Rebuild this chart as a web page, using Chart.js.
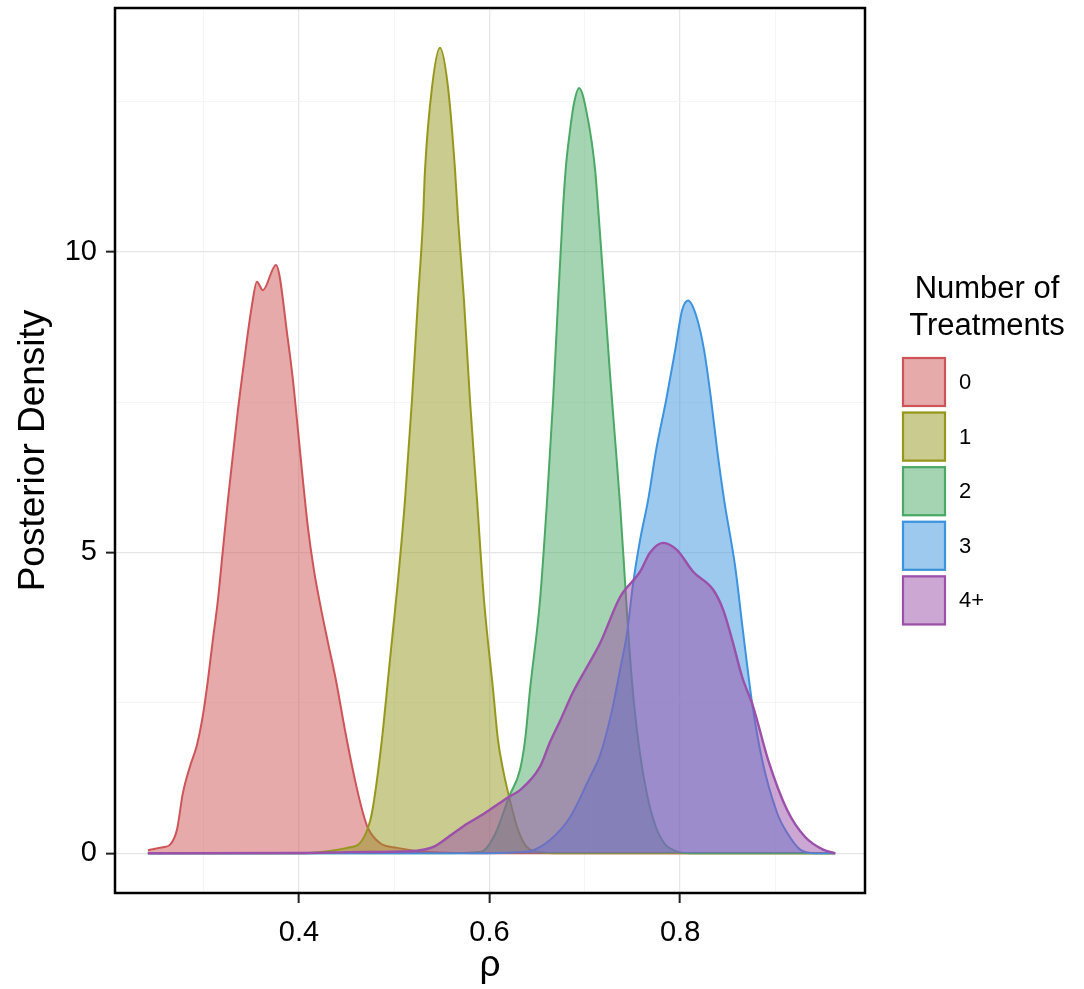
<!DOCTYPE html>
<html>
<head>
<meta charset="utf-8">
<script src="https://cdn.jsdelivr.net/npm/chart.js@4.4.1/dist/chart.umd.min.js"></script>
<style>
  html, body { margin: 0; padding: 0; background: #ffffff; }
  #wrap { width: 1084px; height: 989px; }
</style>
</head>
<body>
<div id="wrap"><canvas id="c" width="1084" height="989"></canvas></div>
<script>
// ---------- data ----------
const categories = ['0', '1', '2', '3', '4+'];

const rho0  = [0.2415, 0.2572, 0.2646, 0.272, 0.2782, 0.2856, 0.293, 0.2993, 0.3045, 0.3097, 0.315, 0.3202, 0.3255, 0.3307, 0.336, 0.3402, 0.3454, 0.3507, 0.3559, 0.3622, 0.3759, 0.3885, 0.3937, 0.399, 0.4042, 0.4094, 0.4157, 0.423, 0.4304, 0.4388, 0.4483, 0.4588, 0.4672, 0.4724, 0.485, 0.5029, 0.5375, 0.6, 0.9627];
const dens0 = [0.05, 0.10, 0.14, 0.39, 1.0, 1.44, 1.8, 2.3, 2.88, 3.55, 4.21, 5.04, 5.87, 6.62, 7.37, 7.9, 8.53, 9.11, 9.5, 9.36, 9.78, 8.53, 7.87, 7.03, 6.2, 5.42, 4.71, 4.08, 3.51, 2.88, 2.05, 1.22, 0.67, 0.42, 0.17, 0.09, 0.02, 0, 0];

const rho1  = [0.2415, 0.40, 0.4325, 0.4504, 0.464, 0.4724, 0.4766, 0.4819, 0.4882, 0.4934, 0.4987, 0.504, 0.5113, 0.5186, 0.5249, 0.5302, 0.5323, 0.5397, 0.548, 0.5564, 0.5638, 0.567, 0.5732, 0.5795, 0.5869, 0.5942, 0.6037, 0.6089, 0.6142, 0.6205, 0.6299, 0.6394, 0.653, 0.674, 0.9627];
const dens1 = [0, 0, 0.04, 0.09, 0.17, 0.42, 0.67, 1.22, 2.05, 2.88, 3.71, 4.54, 5.87, 7.53, 9.19, 10.53, 11.36, 12.74, 13.39, 12.74, 11.36, 10.53, 9.19, 7.53, 5.87, 4.21, 2.72, 1.88, 1.39, 0.94, 0.39, 0.1, 0.02, 0, 0];

const rho2  = [0.2415, 0.55, 0.59, 0.5974, 0.6079, 0.6205, 0.632, 0.6373, 0.6425, 0.653, 0.6604, 0.6667, 0.672, 0.6772, 0.6803, 0.6845, 0.6887, 0.694, 0.7034, 0.7108, 0.7139, 0.7202, 0.7265, 0.7318, 0.737, 0.7423, 0.7465, 0.7517, 0.758, 0.7654, 0.7738, 0.7832, 0.7948, 0.8105, 0.9627];
const dens2 = [0, 0, 0.02, 0.1, 0.39, 0.94, 1.39, 1.88, 2.72, 4.21, 5.87, 7.53, 9.19, 10.74, 11.44, 12.02, 12.47, 12.72, 12.19, 11.36, 10.74, 9.36, 7.95, 6.87, 5.79, 4.49, 3.46, 2.47, 1.64, 0.97, 0.47, 0.17, 0.04, 0, 0];

const rho3  = [0.2415, 0.58, 0.632, 0.6457, 0.6635, 0.6845, 0.7055, 0.716, 0.7286, 0.737, 0.7443, 0.7507, 0.758, 0.7664, 0.7748, 0.7853, 0.7948, 0.8021, 0.8084, 0.8168, 0.8252, 0.8326, 0.8389, 0.8462, 0.8578, 0.8662, 0.8756, 0.8861, 0.9018, 0.9123, 0.926, 0.9417, 0.9627];
const dens3 = [0, 0, 0.02, 0.05, 0.22, 0.6, 1.27, 1.63, 2.38, 3.05, 3.66, 4.49, 5.21, 5.87, 6.7, 7.53, 8.36, 9.03, 9.19, 8.94, 8.36, 7.53, 6.7, 5.87, 4.76, 3.66, 2.49, 1.55, 0.67, 0.34, 0.06, 0, 0];

const rho4  = [0.2415, 0.401, 0.4535, 0.506, 0.527, 0.5428, 0.5585, 0.5764, 0.5953, 0.611, 0.6205, 0.632, 0.653, 0.6635, 0.674, 0.6877, 0.7024, 0.716, 0.737, 0.758, 0.7685, 0.7822, 0.7968, 0.8137, 0.8347, 0.8451, 0.8546, 0.8651, 0.8766, 0.8924, 0.9123, 0.9312, 0.9501, 0.9627];
const dens4 = [0, 0.005, 0.02, 0.03, 0.05, 0.12, 0.29, 0.49, 0.67, 0.84, 0.94, 1.05, 1.44, 1.85, 2.2, 2.68, 3.1, 3.49, 4.26, 4.68, 5.0, 5.16, 5.04, 4.68, 4.38, 4.05, 3.55, 2.93, 2.44, 1.55, 0.72, 0.27, 0.06, 0];

const xTickValues = [0.3, 0.4, 0.5, 0.6, 0.7, 0.8, 0.9];
const xTickLabels = ['0.4', '0.6', '0.8'];
const yTickValues = [0, 2.5, 5, 7.5, 10, 12.5];
const yTickLabels = ['0', '5', '10'];

const xTitle = 'ρ';
const yTitle = 'Posterior Density';
const legendTitle = ['Number of', 'Treatments'];

// ---------- styles ----------
const lineColors = ['rgb(205,85,88)', 'rgb(150,152,30)', 'rgb(75,169,101)', 'rgb(60,147,222)', 'rgb(155,80,170)'];
const fillColors = ['rgba(205,85,88,0.5)', 'rgba(150,152,30,0.5)', 'rgba(75,169,101,0.5)', 'rgba(60,147,222,0.5)', 'rgba(155,80,170,0.5)'];
const FONT = "'Liberation Sans', Arial, Helvetica, sans-serif";

const seriesX = [rho0, rho1, rho2, rho3, rho4];
const seriesY = [dens0, dens1, dens2, dens3, dens4];

const datasets = categories.map((cat, i) => ({
  label: cat,
  data: seriesX[i].map((x, j) => ({ x: x, y: seriesY[i][j] })),
  borderColor: lineColors[i],
  backgroundColor: fillColors[i],
  borderWidth: i === categories.length - 1 ? 2.4 : 2,
  fill: 'origin',
  pointRadius: 0,
  tension: 0.4,
  cubicInterpolationMode: 'monotone',
  order: categories.length - i   // later categories drawn on top
}));

const isMajorX = v => xTickLabels.includes(String(+v.toFixed(1)));
const isMajorY = v => yTickLabels.includes(String(v));
const noPad = s => { s.paddingTop = 0; s.paddingBottom = 0; s.paddingLeft = 0; s.paddingRight = 0; };

const framePlugin = {
  id: 'frame',
  afterDatasetsDraw(chart) {
    const a = chart.chartArea, c = chart.ctx;
    c.save();
    c.strokeStyle = '#000';
    c.lineWidth = 2.5;
    c.strokeRect(a.left, a.top, a.right - a.left, a.bottom - a.top);
    c.restore();
  }
};

const legendPlugin = {
  id: 'ggLegend',
  afterDraw(chart) {
    const c = chart.ctx;
    c.save();
    c.fillStyle = '#000';
    c.font = '31px ' + FONT;
    c.textAlign = 'center';
    c.textBaseline = 'alphabetic';
    c.fillText(legendTitle[0], 987, 298);
    c.fillText(legendTitle[1], 987, 335);
    const kx = 902, kw = 44, kh = 50, ky0 = 357, pitch = 54.6;
    chart.data.datasets.forEach((ds, i) => {
      const y = ky0 + i * pitch;
      c.fillStyle = '#ffffff';
      c.fillRect(kx, y, kw, kh);
      c.fillStyle = ds.backgroundColor;
      c.fillRect(kx, y, kw, kh);
      c.strokeStyle = ds.borderColor;
      c.lineWidth = 2.2;
      c.strokeRect(kx + 1, y + 1, kw - 2, kh - 2);
      c.fillStyle = '#000';
      c.font = '22px ' + FONT;
      c.textAlign = 'left';
      c.textBaseline = 'middle';
      c.fillText(ds.label, 959, y + kh / 2 + 1);
    });
    c.restore();
  }
};

new Chart(document.getElementById('c'), {
  type: 'line',
  data: { datasets: datasets },
  options: {
    responsive: false,
    animation: false,
    events: [],
    layout: { padding: { left: 0, right: 219, top: 8, bottom: 0 } },
    plugins: { legend: { display: false }, tooltip: { enabled: false } },
    scales: {
      x: {
        type: 'linear',
        min: 0.207,
        max: 0.994,
        afterBuildTicks: s => { s.ticks = xTickValues.map(v => ({ value: v })); },
        afterFit: s => { s.height = 96; noPad(s); },
        border: { display: false },
        grid: {
          color: ctx => isMajorX(ctx.tick.value) ? '#e6e6e6' : '#f2f2f2',
          lineWidth: ctx => isMajorX(ctx.tick.value) ? 1.3 : 0.8,
          tickColor: ctx => isMajorX(ctx.tick.value) ? '#222' : 'rgba(0,0,0,0)',
          tickLength: 10,
          tickWidth: 2
        },
        ticks: {
          autoSkip: false,
          maxRotation: 0,
          padding: 13,
          color: '#000',
          font: { family: FONT, size: 29 },
          callback: v => isMajorX(v) ? String(+v.toFixed(1)) : ''
        },
        title: {
          display: true,
          text: xTitle,
          color: '#000',
          font: { family: FONT, size: 37 },
          padding: { top: 0, bottom: 1 }
        }
      },
      y: {
        type: 'linear',
        min: -0.66,
        max: 14.05,
        afterBuildTicks: s => { s.ticks = yTickValues.map(v => ({ value: v })); },
        afterFit: s => { s.width = 115; noPad(s); },
        border: { display: false },
        grid: {
          color: ctx => isMajorY(ctx.tick.value) ? '#e6e6e6' : '#f2f2f2',
          lineWidth: ctx => isMajorY(ctx.tick.value) ? 1.3 : 0.8,
          tickColor: ctx => isMajorY(ctx.tick.value) ? '#222' : 'rgba(0,0,0,0)',
          tickLength: 9,
          tickWidth: 2
        },
        ticks: {
          autoSkip: false,
          padding: 9,
          color: '#000',
          font: { family: FONT, size: 29 },
          callback: v => isMajorY(v) ? String(v) : ''
        },
        title: {
          display: true,
          text: yTitle,
          color: '#000',
          font: { family: FONT, size: 37 },
          padding: { top: 12, bottom: 0 }
        }
      }
    }
  },
  plugins: [framePlugin, legendPlugin]
});
</script>
</body>
</html>
